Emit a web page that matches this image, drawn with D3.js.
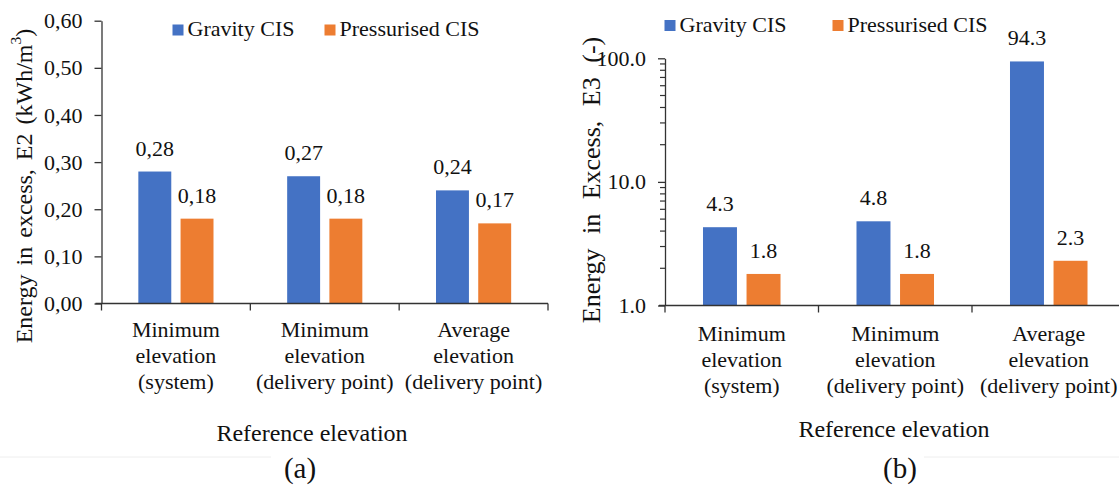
<!DOCTYPE html>
<html>
<head>
<meta charset="utf-8">
<script src="https://cdn.jsdelivr.net/npm/d3@7"></script>
<style>
  html, body { margin: 0; padding: 0; background: #fff; }
  svg { display: block; font-family: "Liberation Serif", "Times New Roman", serif; }
</style>
</head>
<body>
<svg id="fig" width="1119" height="488"></svg>
<script>
// Reference elevation categories (one entry per line of the axis label)
const categories = [
  ["Minimum", "elevation", "(system)"],
  ["Minimum", "elevation", "(delivery point)"],
  ["Average", "elevation", "(delivery point)"]
];
const seriesNames = ["Gravity CIS", "Pressurised CIS"];
const seriesColors = ["#4472C4", "#ED7D31"];

// (a) energy in excess E2, kWh/m3
const e2Gravity = [0.28, 0.27, 0.24];
const e2Pressurised = [0.18, 0.18, 0.17];
const e2Ticks = [0, 0.1, 0.2, 0.3, 0.4, 0.5, 0.6];

// (b) energy in excess E3, dimensionless (log axis)
const e3Gravity = [4.3, 4.8, 94.3];
const e3Pressurised = [1.8, 1.8, 2.3];
const e3Ticks = [1, 10, 100];
const e3MinorTicks = [2, 3, 4, 5, 6, 7, 8, 9, 20, 30, 40, 50, 60, 70, 80, 90];

const svg = d3.select("#fig");
const FONT = 22;
const INK = "#111";

function drawPanel(cfg) {
  const g = svg.append("g");
  const x0 = d3.scaleBand().domain(d3.range(categories.length))
    .range([cfg.left, cfg.right]).paddingInner(0).paddingOuter(0);
  const groupW = x0.bandwidth() * 0.505;
  const x1 = d3.scaleBand().domain(seriesNames)
    .range([-groupW / 2, groupW / 2]).paddingInner(0.22);
  const y = cfg.y;

  // bars
  const rows = categories.map((c, i) => seriesNames.map((s, k) => ({
    cat: i, series: s, color: seriesColors[k], value: cfg.values[k][i]
  })));
  const grp = g.selectAll("g.cat").data(rows).enter().append("g")
    .attr("transform", (d, i) => `translate(${x0(i) + x0.bandwidth() / 2},0)`);
  grp.selectAll("rect").data(d => d).enter().append("rect")
    .attr("x", d => x1(d.series))
    .attr("width", x1.bandwidth())
    .attr("y", d => y(d.value))
    .attr("height", d => y(cfg.base) - y(d.value))
    .attr("fill", d => d.color);
  grp.selectAll("text").data(d => d).enter().append("text")
    .attr("x", d => x1(d.series) + x1.bandwidth() / 2)
    .attr("y", d => y(d.value) - 16)
    .attr("text-anchor", "middle")
    .attr("font-size", FONT)
    .attr("fill", INK)
    .text(d => cfg.fmt(d.value));

  // y axis
  const yAxis = d3.axisLeft(y).tickValues(cfg.ticks).tickFormat(cfg.fmtTick)
    .tickSizeInner(7).tickSizeOuter(0).tickPadding(12);
  const ya = g.append("g").attr("transform", `translate(${cfg.left},0)`).call(yAxis);
  ya.selectAll("text").attr("font-size", FONT).attr("fill", INK)
    .attr("font-family", "Liberation Serif");
  ya.selectAll("line, path").attr("stroke", "#333").attr("stroke-width", 1.3);
  if (cfg.minor) {
    g.append("g").selectAll("line").data(cfg.minor).enter().append("line")
      .attr("x1", cfg.left - 5).attr("x2", cfg.left)
      .attr("y1", d => y(d)).attr("y2", d => y(d))
      .attr("stroke", "#333").attr("stroke-width", 1.2);
  }

  // x axis (category separators)
  const xb = y(cfg.base);
  g.append("line").attr("x1", cfg.left - 6).attr("x2", cfg.right)
    .attr("y1", xb).attr("y2", xb).attr("stroke", "#333").attr("stroke-width", 1.3);
  const seps = d3.range(categories.length + 1).map(i => cfg.left + i * x0.step());
  g.append("g").selectAll("line").data(seps).enter().append("line")
    .attr("x1", d => d).attr("x2", d => d).attr("y1", xb).attr("y2", xb + 7)
    .attr("stroke", "#333").attr("stroke-width", 1.3);

  // category labels
  const cl = g.append("g").selectAll("text").data(categories).enter().append("text")
    .attr("text-anchor", "middle").attr("font-size", FONT).attr("fill", INK)
    .attr("transform", (d, i) => `translate(${x0(i) + x0.bandwidth() / 2},${xb + cfg.catOffset})`);
  cl.selectAll("tspan").data(d => d).enter().append("tspan")
    .attr("x", 0).attr("y", (d, j) => j * 26).text(d => d);

  // axis titles
  g.append("text").attr("x", cfg.xTitle[0]).attr("y", cfg.xTitle[1])
    .attr("text-anchor", "middle").attr("font-size", 24).attr("fill", INK)
    .text("Reference elevation");
  const yt = g.append("text")
    .attr("transform", `translate(${cfg.yTitle[0]},${cfg.yTitle[1]}) rotate(-90)`)
    .attr("text-anchor", "middle").attr("dominant-baseline", "central")
    .attr("font-size", cfg.yTitleSize).attr("fill", INK)
    .attr("word-spacing", cfg.yTitleSpacing);
  cfg.yTitleParts.forEach(p => {
    const t = yt.append("tspan").text(p.text);
    if (p.sup) t.attr("baseline-shift", "super").attr("font-size", cfg.yTitleSize * 0.65);
  });

  // legend
  const lg = g.append("g");
  cfg.legend.forEach((lx, k) => {
    lg.append("rect").attr("x", lx).attr("y", cfg.legendY - 11.5).attr("width", 11).attr("height", 11)
      .attr("fill", seriesColors[k]);
    lg.append("text").attr("x", lx + 15).attr("y", cfg.legendY).attr("font-size", FONT)
      .attr("fill", INK).text(seriesNames[k]);
  });

  // panel letter
  g.append("text").attr("x", cfg.letter[0]).attr("y", cfg.letter[1])
    .attr("text-anchor", "middle").attr("font-size", 29).attr("fill", INK)
    .text(cfg.letterText);

  // faint separator line below the axis title
  g.append("line").attr("x1", cfg.rule[0]).attr("x2", cfg.rule[1])
    .attr("y1", 457).attr("y2", 457).attr("stroke", "#eeeeee").attr("stroke-width", 1);
}

const fmtComma = d => d3.format(".2f")(d).replace(".", ",");

drawPanel({
  left: 101.5, right: 548,
  y: d3.scaleLinear().domain([0, 0.6]).range([303.5, 20.7]),
  base: 0,
  values: [e2Gravity, e2Pressurised],
  ticks: e2Ticks,
  fmt: fmtComma, fmtTick: fmtComma,
  catOffset: 33.5,
  xTitle: [312, 441],
  yTitle: [24, 186], yTitleSize: 24, yTitleSpacing: 3,
  yTitleParts: [{ text: "Energy in excess, E2 (kWh/m" }, { text: "3", sup: true }, { text: ")" }],
  legend: [172.5, 324.5], legendY: 36,
  letter: [300, 478], letterText: "(a)",
  rule: [0, 271]
});

drawPanel({
  left: 665, right: 1125.5,
  y: d3.scaleLog().domain([1, 100]).range([305.5, 58.3]),
  base: 1,
  values: [e3Gravity, e3Pressurised],
  ticks: e3Ticks,
  minor: e3MinorTicks,
  fmt: d3.format(".1f"), fmtTick: d3.format(".1f"),
  catOffset: 35,
  xTitle: [894, 437],
  yTitle: [591, 180], yTitleSize: 26, yTitleSpacing: 8,
  yTitleParts: [{ text: "Energy in Excess, E3 (-)" }],
  legend: [664.5, 832.5], legendY: 31.5,
  letter: [900, 478], letterText: "(b)",
  rule: [924, 1119]
});
</script>
</body>
</html>
